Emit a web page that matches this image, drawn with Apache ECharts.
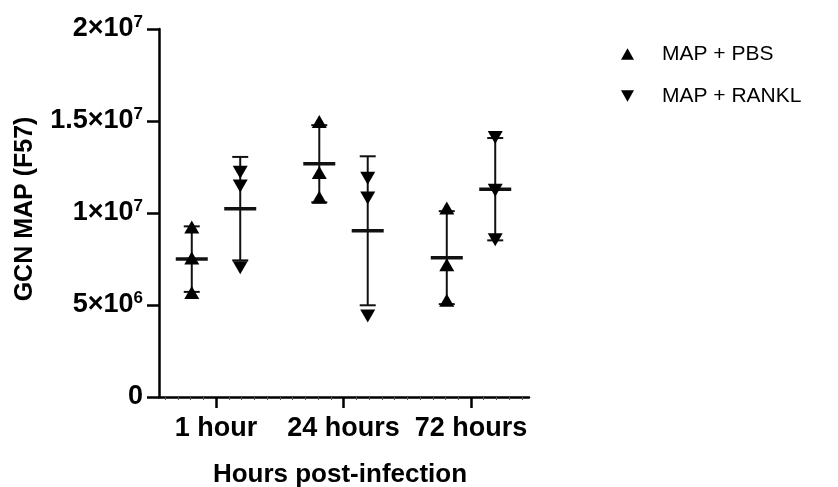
<!DOCTYPE html>
<html><head><meta charset="utf-8">
<script src="https://cdn.jsdelivr.net/npm/echarts@6/dist/echarts.min.js"></script>
<style>html,body{margin:0;padding:0;background:#fff}#c{width:838px;height:487px}</style>
</head><body><div id="c"></div>
<script>
// ---- data (values in units of 1e6) ----
const categories = ['1 hour', '24 hours', '72 hours'];
const seriesNames = ['MAP + PBS', 'MAP + RANKL'];
const pbsValues = [[9.24, 7.56, 5.68], [14.97, 12.2, 10.86], [10.27, 7.19, 5.26]];
const ranklValues = [[12.22, 11.47, 7.02], [11.89, 10.81, 4.4], [14.1, 11.24, 8.54]];
const yTickValues = [0, 5e6, 1e7, 1.5e7, 2e7];
const unit = 1e6;

// ---- layout constants ----
const FONT = "'Liberation Sans', Arial, sans-serif";
const groupOffset = 0.19;
const UP = 'path://M5,0 L10,9 L0,9 Z';
const DOWN = 'path://M0,0 L10,0 L5,9 Z';

function stats(arr) {
  const n = arr.length;
  const m = arr.reduce((a, b) => a + b, 0) / n;
  const sd = Math.sqrt(arr.reduce((a, b) => a + (b - m) * (b - m), 0) / (n - 1));
  return [m, sd];
}
function pointData(groups, off) {
  const out = [];
  groups.forEach((g, i) => g.forEach(v => out.push([i + 1 + off, v * unit])));
  return out;
}
function barData(groups, off) {
  return groups.map((g, i) => { const s = stats(g); return [i + 1 + off, s[0] * unit, s[1] * unit]; });
}
function renderBar(params, api) {
  const x = api.value(0), m = api.value(1), sd = api.value(2);
  const top = api.coord([x, m + sd]);
  const bot = api.coord([x, m - sd]);
  const mid = api.coord([x, m]);
  const ln = (x1, y1, x2, y2, w) => ({ type: 'line', shape: { x1, y1, x2, y2 }, style: { stroke: '#111', lineWidth: w } });
  return {
    type: 'group', children: [
      ln(top[0], top[1], bot[0], bot[1], 2),
      ln(top[0] - 8, top[1], top[0] + 8, top[1], 2),
      ln(bot[0] - 8, bot[1], bot[0] + 8, bot[1], 2),
      ln(mid[0] - 16, mid[1], mid[0] + 16, mid[1], 3.5)
    ]
  };
}
function yFmt(v) {
  if (v === 0) return '{b|0}';
  const e = Math.floor(Math.log10(v) + 1e-9);
  const mant = +(v / Math.pow(10, e)).toFixed(2);
  return '{b|' + mant + '×10}{s|' + e + '}';
}
const xMin = 1 - 57 / 127.5, xMax = 1 + 313 / 127.5;
const minorTicks = [];
for (let k = 6; k <= 34; k++) { if (k % 10 !== 0) minorTicks.push(k / 10); }

const chart = echarts.init(document.getElementById('c'), null, { renderer: 'canvas' });
chart.setOption({
  animation: false,
  backgroundColor: '#fff',
  textStyle: { fontFamily: FONT },
  grid: { left: 159, right: 309, top: 29, bottom: 90, containLabel: false, outerBoundsMode: 'none' },
  legend: {
    orient: 'vertical', left: 616, top: 37, itemWidth: 13, itemHeight: 12, itemGap: 18,
    textStyle: { fontSize: 21, color: '#000', fontFamily: FONT, lineHeight: 24, padding: [0, 0, 0, 23] },
    data: [{ name: seriesNames[0], icon: UP }, { name: seriesNames[1], icon: DOWN }]
  },
  xAxis: [{
    type: 'value', min: xMin, max: xMax,
    name: 'Hours post-infection', nameLocation: 'middle', nameGap: 65,
    nameTextStyle: { fontSize: 26, fontWeight: 'bold', color: '#000', fontFamily: FONT, padding: [0, 8, 0, 0] },
    axisLine: { lineStyle: { color: '#000', width: 2.5 } },
    axisTick: { customValues: [1, 2, 3], length: 11, lineStyle: { color: '#000', width: 2.5 } },
    axisLabel: { customValues: [1, 2, 3], margin: 18, fontSize: 27, fontWeight: 'bold', color: '#000', fontFamily: FONT,
      formatter: v => categories[Math.round(v) - 1] },
    splitLine: { show: false }
  }, {
    type: 'value', min: xMin, max: xMax, position: 'bottom',
    axisLine: { show: false },
    axisTick: { show: true, customValues: minorTicks, length: 3, lineStyle: { color: '#555', width: 1 } },
    axisLabel: { show: false }, splitLine: { show: false }
  }],
  yAxis: {
    type: 'value', min: 0, max: 2e7, interval: 5e6,
    name: 'GCN MAP (F57)', nameLocation: 'middle', nameGap: 121, nameRotate: 90,
    nameTextStyle: { fontSize: 25, fontWeight: 'bold', color: '#000', fontFamily: FONT, padding: [0, 0, 0, 8] },
    axisLine: { show: true, lineStyle: { color: '#000', width: 2.5 } },
    axisTick: { show: true, length: 12, lineStyle: { color: '#000', width: 2.5 } },
    axisLabel: {
      margin: 16, color: '#000', formatter: yFmt,
      rich: {
        b: { fontSize: 27, fontWeight: 'bold', color: '#000', fontFamily: FONT, lineHeight: 30 },
        s: { fontSize: 17, fontWeight: 'bold', color: '#000', fontFamily: FONT, verticalAlign: 'top', lineHeight: 17 }
      }
    },
    splitLine: { show: false }
  },
  series: [
    { type: 'custom', name: seriesNames[0] + ' err', renderItem: renderBar, data: barData(pbsValues, -groupOffset), z: 2 },
    { type: 'custom', name: seriesNames[1] + ' err', renderItem: renderBar, data: barData(ranklValues, groupOffset), z: 2 },
    { type: 'scatter', name: seriesNames[0], symbol: UP, symbolSize: [15, 13], itemStyle: { color: '#000', opacity: 1 }, data: pointData(pbsValues, -groupOffset), z: 3 },
    { type: 'scatter', name: seriesNames[1], symbol: DOWN, symbolSize: [15, 13], itemStyle: { color: '#000', opacity: 1 }, data: pointData(ranklValues, groupOffset), z: 3 }
  ]
});
</script></body></html>
